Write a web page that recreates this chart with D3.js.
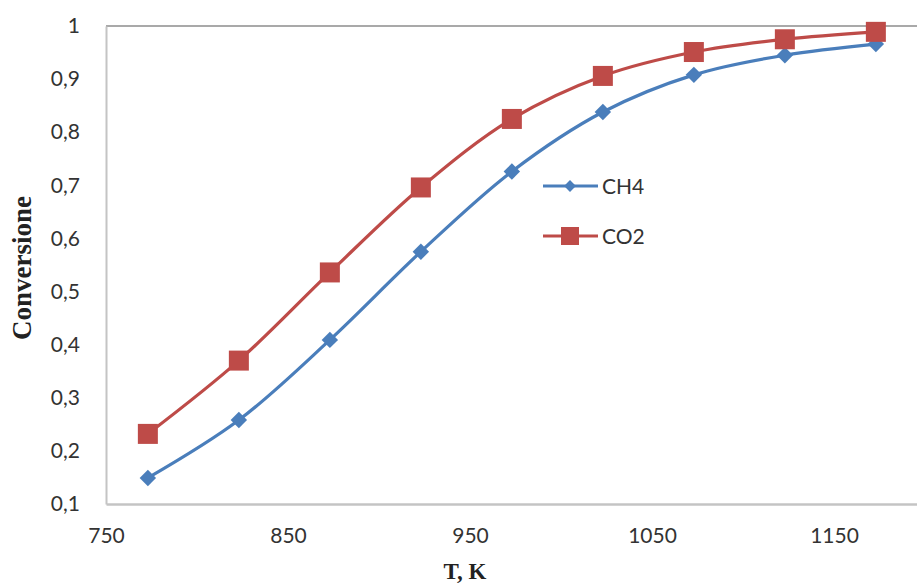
<!DOCTYPE html>
<html>
<head>
<meta charset="utf-8">
<script src="https://cdn.jsdelivr.net/npm/d3@7"></script>
<style>
  html, body { margin: 0; padding: 0; background: #fff; }
  svg { display: block; }
</style>
</head>
<body>
<svg id="chart" width="917" height="586"></svg>
<script>
const temperatures = [773, 823, 873, 923, 973, 1023, 1073, 1123, 1173];
const ch4Values = [0.149, 0.258, 0.409, 0.575, 0.726, 0.838, 0.908, 0.945, 0.966];
const co2Values = [0.232, 0.370, 0.536, 0.696, 0.825, 0.906, 0.951, 0.975, 0.989];
const xTicks = [750, 850, 950, 1050, 1150];
const yTicks = [0.1, 0.2, 0.3, 0.4, 0.5, 0.6, 0.7, 0.8, 0.9, 1];
const seriesNames = ["CH4", "CO2"];
const seriesColors = ["#4a7ebb", "#be4b48"];

(function () {
const svg = d3.select("#chart");
const W = 917;
const mLeft = 106, mTop = 26, mBottom = 504;

const x = d3.scaleLinear().domain([750, 1200]).range([mLeft, mLeft + 4.5 * 182]);
const y = d3.scaleLinear().domain([0.1, 1]).range([mBottom, mTop]);

const fmt = v => String(v).replace(".", ",");
const tickFont = "Lato, 'Liberation Sans', sans-serif";

svg.append("line").attr("x1", mLeft).attr("x2", W).attr("y1", y(1)).attr("y2", y(1))
  .attr("stroke", "#8c8c8c").attr("stroke-width", 1.5);

const yAxis = svg.append("g").attr("transform", `translate(${mLeft},0)`)
  .call(d3.axisLeft(y).tickValues(yTicks).tickFormat(fmt).tickSize(0).tickPadding(26));
yAxis.select(".domain").attr("stroke", "#c4c4c4").attr("stroke-width", 2);
yAxis.selectAll("text").attr("font-family", tickFont).attr("font-size", 21).attr("fill", "#333");

const xAxis = svg.append("g").attr("transform", `translate(0,${mBottom})`)
  .call(d3.axisBottom(x).tickValues(xTicks).tickFormat(d3.format("d")).tickSize(0).tickPadding(24));
xAxis.select(".domain").attr("stroke", "#c4c4c4").attr("stroke-width", 2.5);
xAxis.selectAll("text").attr("font-family", tickFont).attr("font-size", 21).attr("fill", "#333");

svg.append("text").attr("x", 465).attr("y", 579).attr("text-anchor", "middle")
  .attr("font-family", "'Liberation Serif', 'DejaVu Serif', serif").attr("font-weight", "bold")
  .attr("font-size", 23).attr("fill", "#222").text("T, K");
svg.append("text").attr("transform", "translate(31,268) rotate(-90)").attr("text-anchor", "middle")
  .attr("font-family", "'Liberation Serif', 'DejaVu Serif', serif").attr("font-weight", "bold")
  .attr("font-size", 27).attr("fill", "#222").text("Conversione");

const line = d3.line().x(d => x(d[0])).y(d => y(d[1])).curve(d3.curveCatmullRom.alpha(0.5));

const series = [ch4Values, co2Values].map((vals, i) => ({
  name: seriesNames[i], color: seriesColors[i],
  points: temperatures.map((t, j) => [t, vals[j]])
}));

series.forEach((s, i) => {
  svg.append("path").datum(s.points).attr("d", line).attr("fill", "none")
    .attr("stroke", s.color).attr("stroke-width", 3.2);
  if (i === 0) {
    svg.append("g").selectAll("path").data(s.points).join("path")
      .attr("d", d3.symbol().type(d3.symbolSquare).size(135)())
      .attr("transform", d => `translate(${x(d[0])},${y(d[1])}) rotate(45)`)
      .attr("fill", s.color);
  } else {
    svg.append("g").selectAll("rect").data(s.points).join("rect")
      .attr("x", d => x(d[0]) - 10).attr("y", d => y(d[1]) - 10)
      .attr("width", 20).attr("height", 20).attr("fill", s.color);
  }
});

const legend = svg.append("g");
series.forEach((s, i) => {
  const ly = 186 + i * 50;
  legend.append("line").attr("x1", 543).attr("x2", 598).attr("y1", ly).attr("y2", ly)
    .attr("stroke", s.color).attr("stroke-width", 3);
  if (i === 0) {
    legend.append("path").attr("d", d3.symbol().type(d3.symbolSquare).size(70)())
      .attr("transform", `translate(570,${ly}) rotate(45)`).attr("fill", s.color);
  } else {
    legend.append("rect").attr("x", 561).attr("y", ly - 9).attr("width", 18).attr("height", 18)
      .attr("fill", s.color);
  }
  legend.append("text").attr("x", 602).attr("y", ly + 8).attr("font-family", tickFont)
    .attr("font-size", 21).attr("fill", "#333").text(s.name);
});
})();
</script>
</body>
</html>
